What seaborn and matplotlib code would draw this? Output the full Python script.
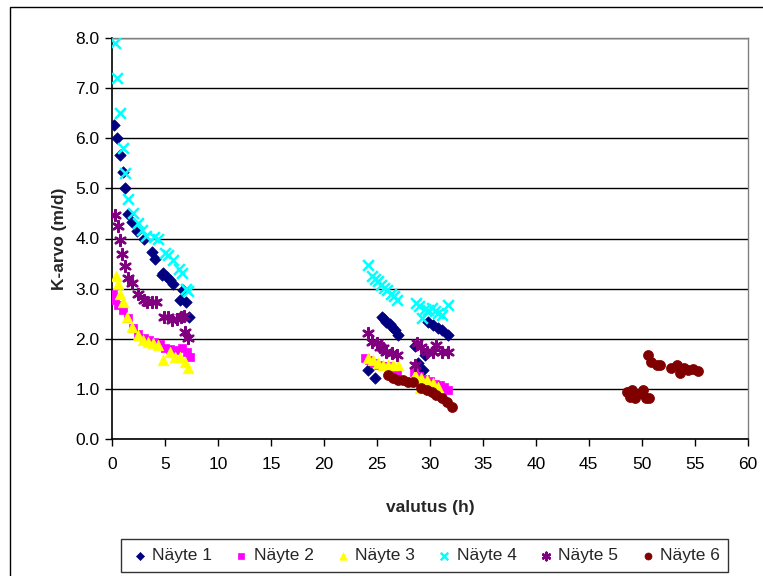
import matplotlib
matplotlib.use("Agg")
import matplotlib.pyplot as plt
import seaborn as sns
import pandas as pd
from matplotlib.patches import Rectangle

# ---- data ----
n1_x = [0.2, 0.5, 0.75, 1.0, 1.25, 1.5, 1.9, 2.4, 3.0, 3.75, 4.1, 4.75, 4.85, 5.2, 5.5, 5.8, 6.4, 6.7, 7.0, 7.3,
        24.2, 24.8, 25.45, 25.7, 25.9, 26.2, 26.4, 26.7, 27.0,
        28.6, 28.9, 29.4, 29.5, 29.85, 30.3, 30.8, 31.1, 31.75]
n1_y = [6.27, 6.0, 5.67, 5.32, 5.0, 4.48, 4.32, 4.15, 4.0, 3.74, 3.6, 3.27, 3.31, 3.24, 3.17, 3.1, 2.77, 2.97, 2.74, 2.44,
        1.38, 1.21, 2.44, 2.4, 2.34, 2.29, 2.24, 2.17, 2.08,
        1.85, 1.51, 1.38, 1.68, 2.34, 2.28, 2.21, 2.17, 2.08]

n2_x = [0.12, 0.28, 0.6, 1.07, 1.5, 2.0, 2.5, 3.0, 3.5, 4.0, 4.5, 5.0, 5.5, 6.0, 6.58, 7.05, 7.36,
        23.9, 24.3, 24.7, 25.1, 25.6, 26.1, 26.6, 26.9,
        28.5, 29.0, 29.5, 30.0, 30.5, 31.0, 31.3, 31.75]
n2_y = [2.9, 2.77, 2.67, 2.57, 2.42, 2.22, 2.1, 2.02, 1.97, 1.94, 1.9, 1.81, 1.79, 1.78, 1.81, 1.74, 1.64,
        1.61, 1.57, 1.52, 1.48, 1.46, 1.45, 1.4, 1.34,
        1.34, 1.26, 1.2, 1.15, 1.1, 1.07, 1.04, 0.98]

n3_x = [0.35, 0.55, 0.8, 1.07, 1.39, 1.86, 2.48, 2.96, 3.43, 3.9, 4.37, 4.85, 5.47, 5.94, 6.42, 6.9, 7.2,
        24.2, 24.65, 25.1, 25.6, 26.06, 26.5, 27.0,
        28.6, 29.1, 29.2, 29.7, 30.3, 30.8]
n3_y = [3.25, 3.1, 2.9, 2.74, 2.44, 2.24, 2.08, 1.98, 1.94, 1.91, 1.88, 1.58, 1.74, 1.64, 1.64, 1.54, 1.41,
        1.61, 1.58, 1.51, 1.48, 1.48, 1.48, 1.48,
        1.28, 1.01, 1.21, 1.18, 1.11, 1.04]

n4_x = [0.25, 0.5, 0.8, 1.0, 1.25, 1.5, 2.0, 2.5, 2.8, 3.2, 4.0, 4.3, 5.0, 5.3, 5.8, 6.3, 6.6, 7.0, 7.2,
        24.2, 24.5, 24.8, 25.1, 25.4, 25.7, 26.0, 26.3, 26.6, 26.9,
        28.7, 29.0, 29.3, 29.5, 29.8, 30.2, 30.5, 30.8, 31.1, 31.75]
n4_y = [7.9, 7.2, 6.5, 5.8, 5.3, 4.78, 4.5, 4.3, 4.17, 4.05, 4.02, 4.0, 3.72, 3.68, 3.57, 3.4, 3.32, 3.0, 2.95,
        3.47, 3.25, 3.2, 3.15, 3.08, 3.02, 2.97, 2.9, 2.85, 2.77,
        2.72, 2.65, 2.42, 2.6, 2.58, 2.62, 2.56, 2.52, 2.48, 2.67]

n5_x = [0.28, 0.53, 0.76, 0.91, 1.25, 1.5, 1.9, 2.5, 3.0, 3.3, 3.8, 4.2, 4.9, 5.3, 5.7, 6.1, 6.5, 6.8, 6.9, 7.2,
        24.2, 24.5, 24.97, 25.3, 25.6, 25.9, 26.4, 26.86,
        28.6, 28.75, 29.2, 29.7, 30.3, 30.6, 31.1, 31.75]
n5_y = [4.47, 4.24, 3.97, 3.7, 3.45, 3.22, 3.12, 2.9, 2.77, 2.74, 2.74, 2.74, 2.44, 2.43, 2.38, 2.4, 2.44, 2.45, 2.14, 2.02,
        2.11, 1.94, 1.91, 1.84, 1.81, 1.74, 1.71, 1.68,
        1.48, 1.91, 1.84, 1.74, 1.74, 1.88, 1.74, 1.74]

n6_x = [26.06, 26.5, 27.0, 27.5, 27.95, 28.4,
        29.2, 29.7, 30.2, 30.6, 31.1, 31.6, 32.05,
        48.6, 48.9, 49.1, 49.4, 49.9, 50.1, 50.4, 50.7,
        50.6, 50.9, 51.4, 51.7, 52.8, 53.3, 53.6, 53.95, 54.4, 54.8, 55.3]
n6_y = [1.28, 1.21, 1.18, 1.18, 1.14, 1.14,
        1.01, 0.98, 0.94, 0.88, 0.81, 0.74, 0.64,
        0.94, 0.84, 0.98, 0.81, 0.91, 0.98, 0.81, 0.81,
        1.68, 1.54, 1.48, 1.48, 1.41, 1.48, 1.31, 1.41, 1.38, 1.39, 1.36]

series_names = ["Näyte 1", "Näyte 2", "Näyte 3", "Näyte 4", "Näyte 5", "Näyte 6"]
x_ticks = list(range(0, 61, 5))
y_ticks = [0.0, 1.0, 2.0, 3.0, 4.0, 5.0, 6.0, 7.0, 8.0]

frames = []
for name, xs, ys in zip(series_names, [n1_x, n2_x, n3_x, n4_x, n5_x, n6_x],
                        [n1_y, n2_y, n3_y, n4_y, n5_y, n6_y]):
    frames.append(pd.DataFrame({"t": xs, "k": ys, "series": name}))
df = pd.concat(frames, ignore_index=True)

# ---- style ----
sns.set_theme(style="white")
plt.rcParams["font.family"] = ["Liberation Sans", "DejaVu Sans"]

colors = {"Näyte 1": "#000080", "Näyte 2": "#FF00FF", "Näyte 3": "#FFFF00",
          "Näyte 4": "#00FFFF", "Näyte 5": "#800080", "Näyte 6": "#800000"}
markers = {"Näyte 1": "D", "Näyte 2": "s", "Näyte 3": "^",
           "Näyte 4": "x", "Näyte 5": (6, 2, 0), "Näyte 6": "o"}
sizes = {"Näyte 1": 34, "Näyte 2": 38, "Näyte 3": 58,
         "Näyte 4": 60, "Näyte 5": 60, "Näyte 6": 52}

fig = plt.figure(figsize=(7.63, 5.76), dpi=100)
ax = fig.add_axes([112 / 763, 1 - 439 / 576, (747.7 - 112) / 763, (439 - 38) / 576])

for name in series_names:
    sub = df[df["series"] == name]
    m = markers[name]
    if m in ("x",) or isinstance(m, tuple):
        sns.scatterplot(data=sub, x="t", y="k", ax=ax, color=colors[name], marker=m,
                        s=sizes[name], linewidth=1.8, label=name, zorder=3)
    else:
        sns.scatterplot(data=sub, x="t", y="k", ax=ax, color=colors[name], marker=m,
                        s=sizes[name], edgecolor=colors[name], linewidth=0.5, label=name, zorder=3)

ax.set_xlim(0, 60)
ax.set_ylim(0, 8)
ax.set_xticks(x_ticks)
ax.set_xticklabels([str(v) for v in x_ticks])
ax.set_yticks(y_ticks)
ax.set_yticklabels([f"{v:.1f}" for v in y_ticks])
ax.yaxis.grid(True, color="black", linewidth=1.0, zorder=0)
ax.xaxis.grid(False)
ax.set_axisbelow(True)

for side in ["left", "bottom"]:
    ax.spines[side].set_color("black")
    ax.spines[side].set_linewidth(1.2)
for side in ["top", "right"]:
    ax.spines[side].set_color("#808080")
    ax.spines[side].set_linewidth(1.0)

ax.tick_params(axis="both", which="major", direction="out", length=5, width=1,
               color="black", labelsize=12.5, labelcolor="black", pad=3)
ax.tick_params(axis="x", bottom=True, pad=8)
ax.tick_params(axis="y", left=True, pad=4)

ax.set_xlabel("valutus (h)", fontsize=12.5, fontweight="bold", labelpad=20)
ax.set_ylabel("K-arvo (m/d)", fontsize=12.5, fontweight="bold", labelpad=6)

handles, labels = ax.get_legend_handles_labels()
ax.get_legend().remove()
leg = fig.legend(handles, labels, loc="center", bbox_to_anchor=(424.5 / 763, 1 - 555.5 / 576),
                 ncol=6, frameon=True, fancybox=False, edgecolor="black", fontsize=12.5,
                 handletextpad=0.1, columnspacing=1.1, borderpad=0.5, markerscale=0.7,
                 handlelength=1.2)
leg.get_frame().set_linewidth(1.0)

fig.patches.append(Rectangle((10 / 763, -0.05), 1.2, 1 - 7 / 576 + 0.05,
                             transform=fig.transFigure, fill=False, edgecolor="black",
                             linewidth=1.0))

fig.savefig("out.png", dpi=100)
